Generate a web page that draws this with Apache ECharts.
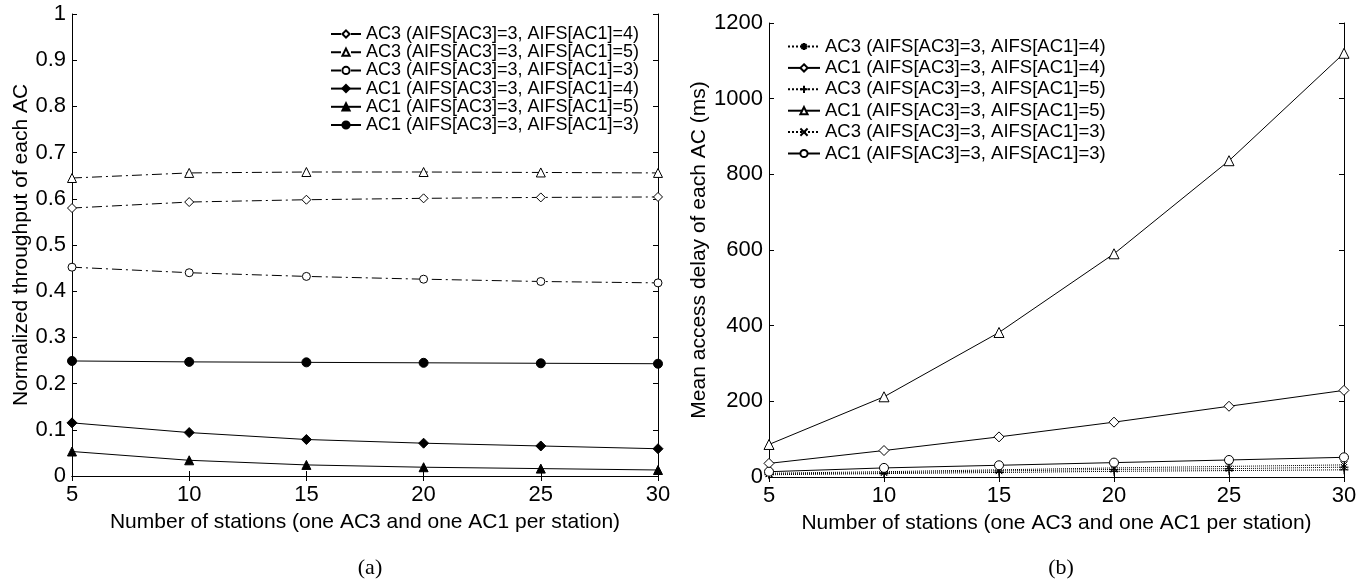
<!DOCTYPE html>
<html><head><meta charset="utf-8">
<script src="https://cdn.jsdelivr.net/npm/echarts@6/dist/echarts.min.js"></script>
<style>html,body{margin:0;padding:0;background:#fff}#c{width:1371px;height:585px}</style>
</head><body><div id="c"></div>
<script>
const stations = [5, 10, 15, 20, 25, 30];
// (a) Normalized throughput
const thrAC3_4 = [0.580, 0.593, 0.598, 0.601, 0.603, 0.604];
const thrAC3_5 = [0.645, 0.656, 0.658, 0.658, 0.657, 0.656];
const thrAC3_3 = [0.452, 0.440, 0.432, 0.426, 0.421, 0.418];
const thrAC1_4 = [0.115, 0.094, 0.079, 0.071, 0.065, 0.059];
const thrAC1_5 = [0.053, 0.034, 0.024, 0.019, 0.016, 0.013];
const thrAC1_3 = [0.249, 0.247, 0.246, 0.245, 0.244, 0.243];
// (b) Mean access delay (ms)
const delAC3_4 = [8, 11, 16, 20, 22, 26];
const delAC1_4 = [36, 70, 106, 145, 187, 229];
const delAC3_5 = [6, 9, 12, 15, 17, 19];
const delAC1_5 = [86, 212, 382, 590, 836, 1120];
const delAC3_3 = [10, 14, 19, 24, 28, 32];
const delAC1_3 = [14, 24, 31, 38, 45, 52];

const labelsA = ['AC3 (AIFS[AC3]=3, AIFS[AC1]=4)','AC3 (AIFS[AC3]=3, AIFS[AC1]=5)','AC3 (AIFS[AC3]=3, AIFS[AC1]=3)',
                 'AC1 (AIFS[AC3]=3, AIFS[AC1]=4)','AC1 (AIFS[AC3]=3, AIFS[AC1]=5)','AC1 (AIFS[AC3]=3, AIFS[AC1]=3)'];
const labelsB = ['AC3 (AIFS[AC3]=3, AIFS[AC1]=4)','AC1 (AIFS[AC3]=3, AIFS[AC1]=4)','AC3 (AIFS[AC3]=3, AIFS[AC1]=5)',
                 'AC1 (AIFS[AC3]=3, AIFS[AC1]=5)','AC3 (AIFS[AC3]=3, AIFS[AC1]=3)','AC1 (AIFS[AC3]=3, AIFS[AC1]=3)'];

const FONT = 'Liberation Sans';
const pair = arr => stations.map((x, i) => [x, arr[i]]);
const DASHDOT = [10, 4, 2, 4];
const STAR = 'path://M0,5L10,5M5,0L5,10M1.5,1.5L8.5,8.5M8.5,1.5L1.5,8.5';
const PLUS = 'path://M0,5L10,5M5,0L5,10';
const CROSS = 'path://M0,0L10,10M10,0L0,10';

function mk(name, data, xi, yi, symbol, filled, lineType, size) {
  return {
    type: 'line', name, data: pair(data), xAxisIndex: xi, yAxisIndex: yi,
    symbol, symbolSize: size || 9, showSymbol: true,
    lineStyle: { color: '#000', width: 1, type: lineType },
    itemStyle: { color: filled ? '#000' : '#fff', borderColor: '#000', borderWidth: 1 },
    emphasis: { disabled: true }, animation: false, z: 3
  };
}

const series = [
  mk('a0', thrAC3_4, 0, 0, 'diamond', false, DASHDOT, 9),
  mk('a1', thrAC3_5, 0, 0, 'triangle', false, DASHDOT, 9),
  mk('a2', thrAC3_3, 0, 0, 'circle', false, DASHDOT, 8),
  mk('a3', thrAC1_4, 0, 0, 'diamond', true, 'solid', 10),
  mk('a4', thrAC1_5, 0, 0, 'triangle', true, 'solid', 9),
  mk('a5', thrAC1_3, 0, 0, 'circle', true, 'solid', 9),
  mk('b0', delAC3_4, 2, 2, STAR, false, 'dotted', 9),
  mk('b1', delAC1_4, 2, 2, 'diamond', false, 'solid', 10),
  mk('b2', delAC3_5, 2, 2, PLUS, false, 'dotted', 9),
  mk('b3', delAC1_5, 2, 2, 'triangle', false, 'solid', 10),
  mk('b4', delAC3_3, 2, 2, CROSS, false, 'dotted', 7),
  mk('b5', delAC1_3, 2, 2, 'circle', false, 'solid', 9)
];

const axLine = { show: true, lineStyle: { color: '#000', width: 1 } };
const tick = { show: true, inside: true, length: 5, lineStyle: { color: '#000', width: 1 } };
const lbl = { color: '#000', fontFamily: FONT, fontSize: 22 };
const nameStyle = { color: '#000', fontFamily: FONT, fontSize: 21 };

function xAx(gi, pos, showLabel) {
  return {
    type: 'value', gridIndex: gi, position: pos, min: 5, max: 30, interval: 5,
    axisLine: axLine, axisTick: tick, splitLine: { show: false },
    axisLabel: showLabel ? Object.assign({ margin: 8 }, lbl) : { show: false },
    name: showLabel ? 'Number of stations (one AC3 and one AC1 per station)' : '',
    nameLocation: 'middle', nameGap: 36, nameTextStyle: nameStyle
  };
}
function yAx(gi, pos, min, max, interval, showLabel, name, gap) {
  return {
    type: 'value', gridIndex: gi, position: pos, min, max, interval,
    axisLine: axLine, axisTick: tick, splitLine: { show: false },
    axisLabel: showLabel ? Object.assign({ margin: 6, formatter: v => String(v) }, lbl) : { show: false },
    name: showLabel ? name : '', nameLocation: 'middle', nameGap: gap, nameTextStyle: nameStyle
  };
}

const legendCommon = {
  orient: 'vertical', itemHeight: 9,
  selectedMode: false, padding: 0
};

const option = {
  animation: false,
  backgroundColor: '#fff',
  grid: [
    { left: 72, right: 1371 - 658, top: 14, bottom: 585 - 476 },
    { left: 769, right: 1371 - 1344, top: 23, bottom: 585 - 477 }
  ],
  xAxis: [xAx(0, 'bottom', true), xAx(0, 'top', false), xAx(1, 'bottom', true), xAx(1, 'top', false)],
  yAxis: [
    yAx(0, 'left', 0, 1, 0.1, true, 'Normalized throughput of each AC', 37),
    yAx(0, 'right', 0, 1, 0.1, false, '', 0),
    yAx(1, 'left', 0, 1200, 200, true, 'Mean access delay of each AC (ms)', 57),
    yAx(1, 'right', 0, 1200, 200, false, '', 0)
  ],
  legend: [
    Object.assign({}, legendCommon, { left: 330, top: 25, itemGap: 0.2, itemWidth: 30,
      textStyle: { color: '#000', fontFamily: FONT, fontSize: 18, lineHeight: 18 },
      data: ['a0','a1','a2','a3','a4','a5'], formatter: n => labelsA[+n[1]] }),
    Object.assign({}, legendCommon, { left: 787, top: 37, itemGap: 2.4, itemWidth: 32,
      textStyle: { color: '#000', fontFamily: FONT, fontSize: 18.5, lineHeight: 18 },
      data: ['b0','b1','b2','b3','b4','b5'], formatter: n => labelsB[+n[1]] })
  ],
  title: [
    { text: '(a)', left: 365, top: 552, textAlign: 'center',
      textStyle: { fontFamily: 'Liberation Serif', fontSize: 22, fontWeight: 'normal', color: '#000' } },
    { text: '(b)', left: 1056, top: 552, textAlign: 'center',
      textStyle: { fontFamily: 'Liberation Serif', fontSize: 22, fontWeight: 'normal', color: '#000' } }
  ],
  series
};
const chart = echarts.init(document.getElementById('c'), null, { renderer: 'canvas' });
chart.setOption(option);
</script></body></html>
